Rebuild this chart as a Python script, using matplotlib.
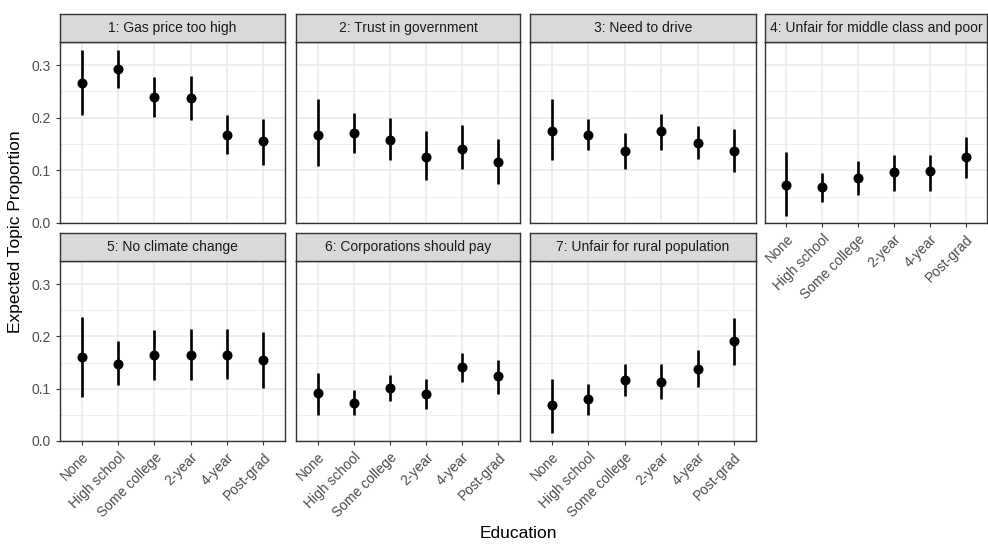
import matplotlib.pyplot as plt
import numpy as np

plt.rcParams['font.family'] = ['Liberation Sans', 'DejaVu Sans']

# Education levels (x axis categories)
education = ["None", "High school", "Some college", "2-year", "4-year", "Post-grad"]

# Facet titles
topics = [
    "1: Gas price too high",
    "2: Trust in government",
    "3: Need to drive",
    "4: Unfair for middle class and poor",
    "5: No climate change",
    "6: Corporations should pay",
    "7: Unfair for rural population",
]

# Expected topic proportion (point estimate) and 95% interval per topic
est = [
    [0.266, 0.293, 0.240, 0.238, 0.168, 0.155],
    [0.167, 0.171, 0.157, 0.126, 0.141, 0.115],
    [0.175, 0.168, 0.137, 0.174, 0.152, 0.137],
    [0.073, 0.068, 0.085, 0.097, 0.098, 0.126],
    [0.161, 0.148, 0.164, 0.164, 0.164, 0.154],
    [0.091, 0.073, 0.101, 0.090, 0.141, 0.124],
    [0.068, 0.080, 0.117, 0.113, 0.137, 0.191],
]
lower = [
    [0.205, 0.257, 0.201, 0.196, 0.131, 0.110],
    [0.108, 0.133, 0.119, 0.082, 0.102, 0.074],
    [0.120, 0.138, 0.102, 0.138, 0.121, 0.097],
    [0.014, 0.039, 0.054, 0.060, 0.061, 0.086],
    [0.085, 0.107, 0.116, 0.117, 0.118, 0.101],
    [0.050, 0.050, 0.076, 0.062, 0.113, 0.090],
    [0.016, 0.050, 0.086, 0.080, 0.103, 0.146],
]
upper = [
    [0.328, 0.328, 0.278, 0.279, 0.205, 0.197],
    [0.235, 0.209, 0.199, 0.174, 0.186, 0.159],
    [0.235, 0.198, 0.171, 0.208, 0.185, 0.178],
    [0.134, 0.095, 0.117, 0.130, 0.130, 0.164],
    [0.237, 0.192, 0.213, 0.215, 0.214, 0.209],
    [0.130, 0.097, 0.127, 0.118, 0.168, 0.155],
    [0.119, 0.108, 0.148, 0.148, 0.173, 0.235],
]

W, H = 988, 544
fig = plt.figure(figsize=(W / 100, H / 100), dpi=100)

# panel geometry in pixels
col_x = [(60, 285), (296, 520), (530, 756), (765, 987)]
row_y = [(14, 42, 223), (233, 261, 441)]  # strip top, strip bottom/panel top, panel bottom

border = "#333333"
grid_col = "#EBEBEB"
tick_col = "#4D4D4D"
x = np.arange(1, len(education) + 1)

for k, topic in enumerate(topics):
    r, c = divmod(k, 4)
    x0, x1 = col_x[c]
    st, pt, pb = row_y[r]
    ax = fig.add_axes([x0 / W, 1 - pb / H, (x1 - x0) / W, (pb - pt) / H])
    ax.set_xlim(0.4, 6.6)
    ax.set_ylim(0, 0.344)

    # grid
    for g in [0.05, 0.15, 0.25]:
        ax.axhline(g, color=grid_col, lw=0.6, zorder=0)
    for g in [0.0, 0.1, 0.2, 0.3]:
        ax.axhline(g, color=grid_col, lw=1.2, zorder=0)
    for xi in x:
        ax.axvline(xi, color=grid_col, lw=1.2, zorder=0)

    e = np.array(est[k])
    lo = np.array(lower[k])
    hi = np.array(upper[k])
    ax.vlines(x, lo, hi, color="black", lw=1.9, zorder=2)
    ax.plot(x, e, "o", color="black", ms=6.2, zorder=3)

    for s in ax.spines.values():
        s.set_color(border)
        s.set_linewidth(1.0)

    ax.set_yticks([0.0, 0.1, 0.2, 0.3])
    ax.set_xticks(x)
    ax.tick_params(color=border, length=3, width=0.8, labelcolor=tick_col, labelsize=10)
    if c == 0:
        ax.set_yticklabels(["0.0", "0.1", "0.2", "0.3"])
    else:
        ax.set_yticklabels([])
        ax.tick_params(axis="y", length=0)
    if r == 1 or c == 3:
        ax.set_xticklabels(education, rotation=45, ha="right", rotation_mode="anchor")
    else:
        ax.set_xticklabels([])
        ax.tick_params(axis="x", length=0)

    # facet strip
    sax = fig.add_axes([x0 / W, 1 - pt / H, (x1 - x0) / W, (pt - st) / H])
    sax.set_facecolor("#D9D9D9")
    sax.set_xticks([])
    sax.set_yticks([])
    for s in sax.spines.values():
        s.set_color(border)
        s.set_linewidth(1.0)
    sax.text(0.5, 0.5, topic, ha="center", va="center", fontsize=10,
             color="#1A1A1A", transform=sax.transAxes)

fig.text(518 / W, 1 - 534 / H, "Education", ha="center", va="center", fontsize=12.5)
fig.text(16 / W, 1 - 232 / H, "Expected Topic Proportion", ha="center", va="center",
         rotation=90, fontsize=12.5)

fig.savefig("out.png", dpi=100)
